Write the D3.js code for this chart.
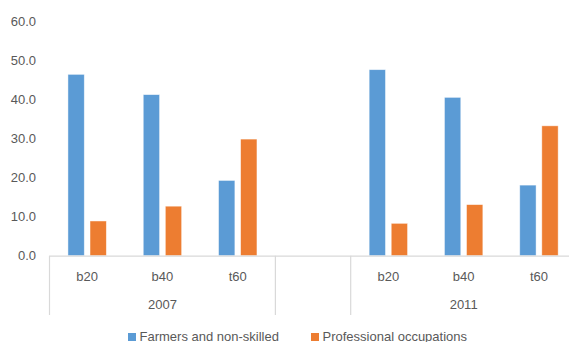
<!DOCTYPE html>
<html>
<head>
<meta charset="utf-8">
<script src="https://cdn.jsdelivr.net/npm/d3@7/dist/d3.min.js"></script>
<style>
  html, body { margin: 0; padding: 0; background: #fff; }
  svg { display: block; font-family: "Liberation Sans", Arial, sans-serif; }
</style>
</head>
<body>
<svg id="chart" width="569" height="342"></svg>
<script>
// Occupation shares by consumption group, 2007 and 2011
const years = ["2007", "2011"];
const groups = ["b20", "b40", "t60"];
const seriesNames = ["Farmers and non-skilled", "Professional occupations"];
const farmers = [46.5, 41.3, 19.3, 47.7, 40.6, 18.1];
const professional = [8.9, 12.7, 29.9, 8.3, 13.1, 33.3];
const yTicks = [0, 10, 20, 30, 40, 50, 60];
const colors = ["#5B9BD5", "#ED7D31"];

const svg = d3.select("#chart");
const W = 569, H = 342;
const left = 49.5, slot = 75.3, y0px = 255.7, y60px = 21.7;

// slot keys: three groups per year with an empty slot between the years
const slots = [];
years.forEach((yr, i) => {
  if (i > 0) slots.push("gap" + i);
  groups.forEach(g => slots.push(yr + "|" + g));
});

const rows = [];
years.forEach((yr, yi) => groups.forEach((g, gi) => {
  const k = yi * groups.length + gi;
  rows.push({ key: yr + "|" + g, year: yr, group: g, values: [farmers[k], professional[k]] });
}));

const x0 = d3.scaleBand().domain(slots).range([left, left + slots.length * slot]).padding(0);
const x1 = d3.scaleBand().domain(seriesNames)
  .range([x0.bandwidth() * 0.245, x0.bandwidth() * 0.755]).paddingInner(0.26);
const y = d3.scaleLinear().domain([0, 60]).range([y0px, y60px]);

// y axis labels (no axis line, no gridlines)
const yAxis = d3.axisLeft(y).tickValues(yTicks).tickFormat(d3.format(".1f")).tickSize(0).tickPadding(0);
const ya = svg.append("g").attr("transform", "translate(36,0)").call(yAxis);
ya.select(".domain").remove();
ya.selectAll("text").attr("font-size", 13).attr("fill", "#595959")
  .attr("font-family", "Liberation Sans, Arial, sans-serif");

// bars
const g = svg.append("g");
const cat = g.selectAll("g.cat").data(rows).join("g")
  .attr("class", "cat")
  .attr("transform", d => `translate(${x0(d.key)},0)`);
cat.selectAll("rect").data(d => d.values.map((v, i) => ({ v, s: seriesNames[i], i })))
  .join("rect")
  .attr("x", d => x1(d.s))
  .attr("width", x1.bandwidth())
  .attr("y", d => y(d.v))
  .attr("height", d => y(0) - y(d.v))
  .attr("fill", d => colors[d.i])
  .attr("stroke", "#fff").attr("stroke-opacity", 0.6).attr("stroke-width", 0.75);

// category axis: baseline and group separators
const axisColor = "#d9d9d9";
const bottomY = 315;
svg.append("line")
  .attr("x1", x0.range()[0]).attr("x2", x0.range()[1])
  .attr("y1", y(0) + 0.5).attr("y2", y(0) + 0.5)
  .attr("stroke", axisColor).attr("stroke-width", 1.2);

const boundaries = [x0.range()[0]];
slots.forEach(s => { if (s.startsWith("gap")) { boundaries.push(x0(s), x0(s) + x0.bandwidth()); } });
boundaries.push(x0.range()[1]);
svg.selectAll("line.sep").data(boundaries).join("line")
  .attr("class", "sep")
  .attr("x1", d => d).attr("x2", d => d)
  .attr("y1", y(0)).attr("y2", bottomY)
  .attr("stroke", axisColor).attr("stroke-width", 1.2);

// group labels
svg.selectAll("text.grp").data(rows).join("text")
  .attr("class", "grp")
  .attr("x", d => x0(d.key) + x0.bandwidth() / 2)
  .attr("y", 280.5)
  .attr("text-anchor", "middle")
  .attr("font-size", 13).attr("fill", "#595959")
  .text(d => d.group);

// year labels centred under each year's groups
svg.selectAll("text.yr").data(years).join("text")
  .attr("class", "yr")
  .attr("x", yr => {
    const ks = groups.map(gr => yr + "|" + gr);
    return (x0(ks[0]) + x0(ks[ks.length - 1]) + x0.bandwidth()) / 2;
  })
  .attr("y", 308.5)
  .attr("text-anchor", "middle")
  .attr("font-size", 13).attr("fill", "#595959")
  .text(d => d);

// legend
const legendX = [128, 311];
const lg = svg.selectAll("g.leg").data(seriesNames).join("g")
  .attr("class", "leg")
  .attr("transform", (d, i) => `translate(${legendX[i]},333)`);
lg.append("rect").attr("width", 8).attr("height", 8).attr("fill", (d, i) => colors[i]);
lg.append("text").attr("x", 11.5).attr("y", 7.5)
  .attr("font-size", 13).attr("fill", "#595959")
  .text(d => d);
</script>
</body>
</html>
